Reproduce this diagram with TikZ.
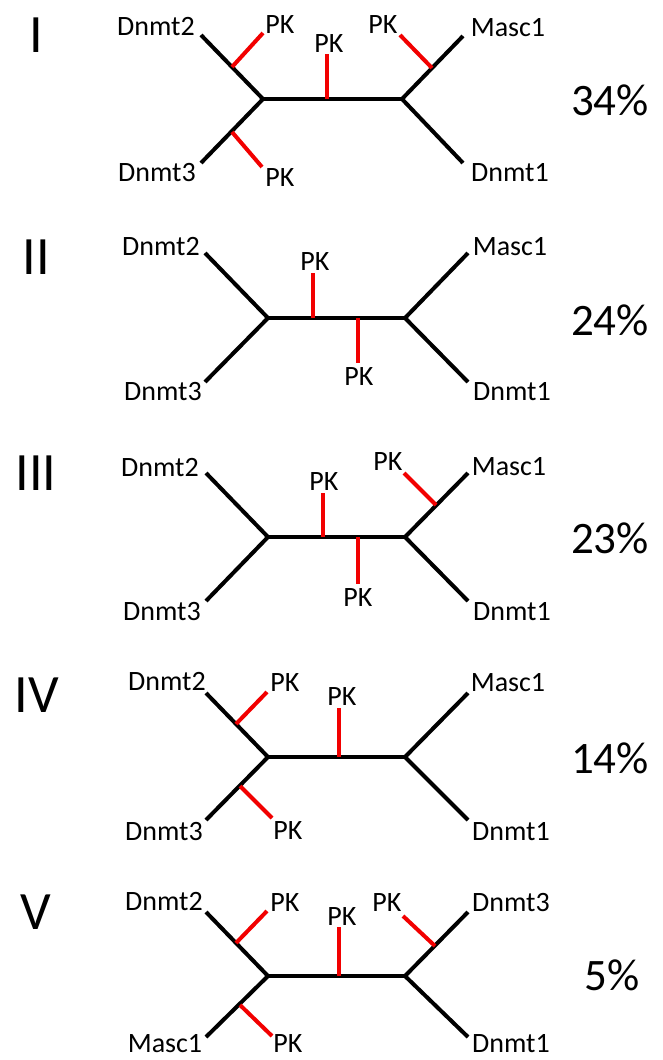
\documentclass[tikz,border=0pt]{standalone}
\usepackage{fontspec}
\setmainfont{Carlito}
\newcommand\leaffont{\fontsize{28}{30}\selectfont}
\newcommand\numfont{\fontsize{54}{58}\selectfont}
\newcommand\pctfont{\fontsize{45}{48}\selectfont}
\tikzset{
  branch/.style={line width=4pt, black},
  pkline/.style={line width=4pt, red!95!black},
  leaf/.style={font=\leaffont, inner sep=0pt},
  numeral/.style={font=\numfont, inner sep=0pt},
  pct/.style={font=\pctfont, inner sep=0pt}
}
\begin{document}
\begin{tikzpicture}[x=1pt, y=-1pt]
\useasboundingbox[fill=white] (0,0) rectangle (662,1060);

% ---------- tree I ----------
\coordinate (aL) at (263,99);  \coordinate (aR) at (402,99);
\coordinate (a2) at (201,35);  \coordinate (a3) at (201,163);
\coordinate (aM) at (463,36);  \coordinate (a1) at (463,163);
\draw[branch] (a2) -- (aL) -- (a3);
\draw[branch] (aL) -- (aR);
\draw[branch] (aM) -- (aR) -- (a1);
\coordinate (aPc) at (327,99);  \coordinate (aPcE) at (327,54);
\coordinate (aPul) at (232,67); \coordinate (aPulE) at (263,33);
\coordinate (aPll) at (232,132);\coordinate (aPllE) at (262,167);
\coordinate (aPur) at (432,68); \coordinate (aPurE) at (400,35);
\draw[pkline] (aPc) -- (aPcE);
\draw[pkline] (aPul) -- (aPulE);
\draw[pkline] (aPll) -- (aPllE);
\draw[pkline] (aPur) -- (aPurE);
\node[numeral] (numI) at (36,35) {I};
\node[leaf] (aT2) at (156,27) {Dnmt2};
\node[leaf] (aT3) at (157,173) {Dnmt3};
\node[leaf] (aTM) at (508,28) {Masc1};
\node[leaf] (aT1) at (510,173) {Dnmt1};
\node[leaf] (aK1) at (280,25) {PK};
\node[leaf] (aK2) at (329,44) {PK};
\node[leaf] (aK3) at (383,25) {PK};
\node[leaf] (aK4) at (280,178) {PK};
\node[pct] (pI) at (610,100) {34\%};

% ---------- tree II ----------
\coordinate (bL) at (268,318);  \coordinate (bR) at (405,318);
\coordinate (b2) at (205,253);  \coordinate (b3) at (205,382);
\coordinate (bM) at (468,253);  \coordinate (b1) at (468,382);
\draw[branch] (b2) -- (bL) -- (b3);
\draw[branch] (bL) -- (bR);
\draw[branch] (bM) -- (bR) -- (b1);
\coordinate (bPu) at (313,318); \coordinate (bPuE) at (313,273);
\coordinate (bPd) at (358,318); \coordinate (bPdE) at (358,363);
\draw[pkline] (bPu) -- (bPuE);
\draw[pkline] (bPd) -- (bPdE);
\node[numeral] (numII) at (36,257) {II};
\node[leaf] (bT2) at (161,247) {Dnmt2};
\node[leaf] (bT3) at (163,392) {Dnmt3};
\node[leaf] (bTM) at (510,247) {Masc1};
\node[leaf] (bT1) at (512,392) {Dnmt1};
\node[leaf] (bK1) at (315,262) {PK};
\node[leaf] (bK2) at (359,377) {PK};
\node[pct] (pII) at (610,320) {24\%};

% ---------- tree III ----------
\coordinate (cL) at (268,537);  \coordinate (cR) at (405,537);
\coordinate (c2) at (206,473);  \coordinate (c3) at (206,601);
\coordinate (cM) at (468,473);  \coordinate (c1) at (468,601);
\draw[branch] (c2) -- (cL) -- (c3);
\draw[branch] (cL) -- (cR);
\draw[branch] (cM) -- (cR) -- (c1);
\coordinate (cPu) at (323,537); \coordinate (cPuE) at (323,493);
\coordinate (cPd) at (358,537); \coordinate (cPdE) at (358,584);
\coordinate (cPur) at (436,505);\coordinate (cPurE) at (404,473);
\draw[pkline] (cPu) -- (cPuE);
\draw[pkline] (cPd) -- (cPdE);
\draw[pkline] (cPur) -- (cPurE);
\node[numeral] (numIII) at (36,473) {III};
\node[leaf] (cT2) at (160,468) {Dnmt2};
\node[leaf] (cT3) at (162,612) {Dnmt3};
\node[leaf] (cTM) at (509,467) {Masc1};
\node[leaf] (cT1) at (512,612) {Dnmt1};
\node[leaf] (cK1) at (324,482) {PK};
\node[leaf] (cK2) at (358,598) {PK};
\node[leaf] (cK3) at (388,462) {PK};
\node[pct] (pIII) at (610,538) {23\%};

% ---------- tree IV ----------
\coordinate (dL) at (268,757);  \coordinate (dR) at (405,757);
\coordinate (d2) at (206,693);  \coordinate (d3) at (206,820);
\coordinate (dM) at (468,693);  \coordinate (d1) at (468,820);
\draw[branch] (d2) -- (dL) -- (d3);
\draw[branch] (dL) -- (dR);
\draw[branch] (dM) -- (dR) -- (d1);
\coordinate (dPc) at (339,757); \coordinate (dPcE) at (339,708);
\coordinate (dPul) at (236,724);\coordinate (dPulE) at (267,692);
\coordinate (dPll) at (240,786);\coordinate (dPllE) at (272,818);
\draw[pkline] (dPc) -- (dPcE);
\draw[pkline] (dPul) -- (dPulE);
\draw[pkline] (dPll) -- (dPllE);
\node[numeral] (numIV) at (37,695) {IV};
\node[leaf] (dT2) at (167,682) {Dnmt2};
\node[leaf] (dT3) at (164,832) {Dnmt3};
\node[leaf] (dTM) at (508,683) {Masc1};
\node[leaf] (dT1) at (511,832) {Dnmt1};
\node[leaf] (dK1) at (285,683) {PK};
\node[leaf] (dK2) at (342,697) {PK};
\node[leaf] (dK3) at (288,831) {PK};
\node[pct] (pIV) at (610,758) {14\%};

% ---------- tree V ----------
\coordinate (eL) at (268,976);  \coordinate (eR) at (405,976);
\coordinate (e2) at (206,912);  \coordinate (eM) at (206,1037);
\coordinate (e3) at (468,912);  \coordinate (e1) at (468,1037);
\draw[branch] (e2) -- (eL) -- (eM);
\draw[branch] (eL) -- (eR);
\draw[branch] (e3) -- (eR) -- (e1);
\coordinate (ePc) at (339,976); \coordinate (ePcE) at (339,927);
\coordinate (ePul) at (236,943);\coordinate (ePulE) at (267,911);
\coordinate (ePll) at (240,1005);\coordinate (ePllE) at (272,1036);
\coordinate (ePur) at (435,946);\coordinate (ePurE) at (403,916);
\draw[pkline] (ePc) -- (ePcE);
\draw[pkline] (ePul) -- (ePulE);
\draw[pkline] (ePll) -- (ePllE);
\draw[pkline] (ePur) -- (ePurE);
\node[numeral] (numV) at (36,912) {V};
\node[leaf] (eT2) at (164,902) {Dnmt2};
\node[leaf] (eTM) at (165,1044) {Masc1};
\node[leaf] (eT3) at (511,903) {Dnmt3};
\node[leaf] (eT1) at (511,1044) {Dnmt1};
\node[leaf] (eK1) at (285,903) {PK};
\node[leaf] (eK2) at (342,917) {PK};
\node[leaf] (eK3) at (387,903) {PK};
\node[leaf] (eK4) at (288,1044) {PK};
\node[pct] (pV) at (612,975) {5\%};
\end{tikzpicture}
\end{document}
